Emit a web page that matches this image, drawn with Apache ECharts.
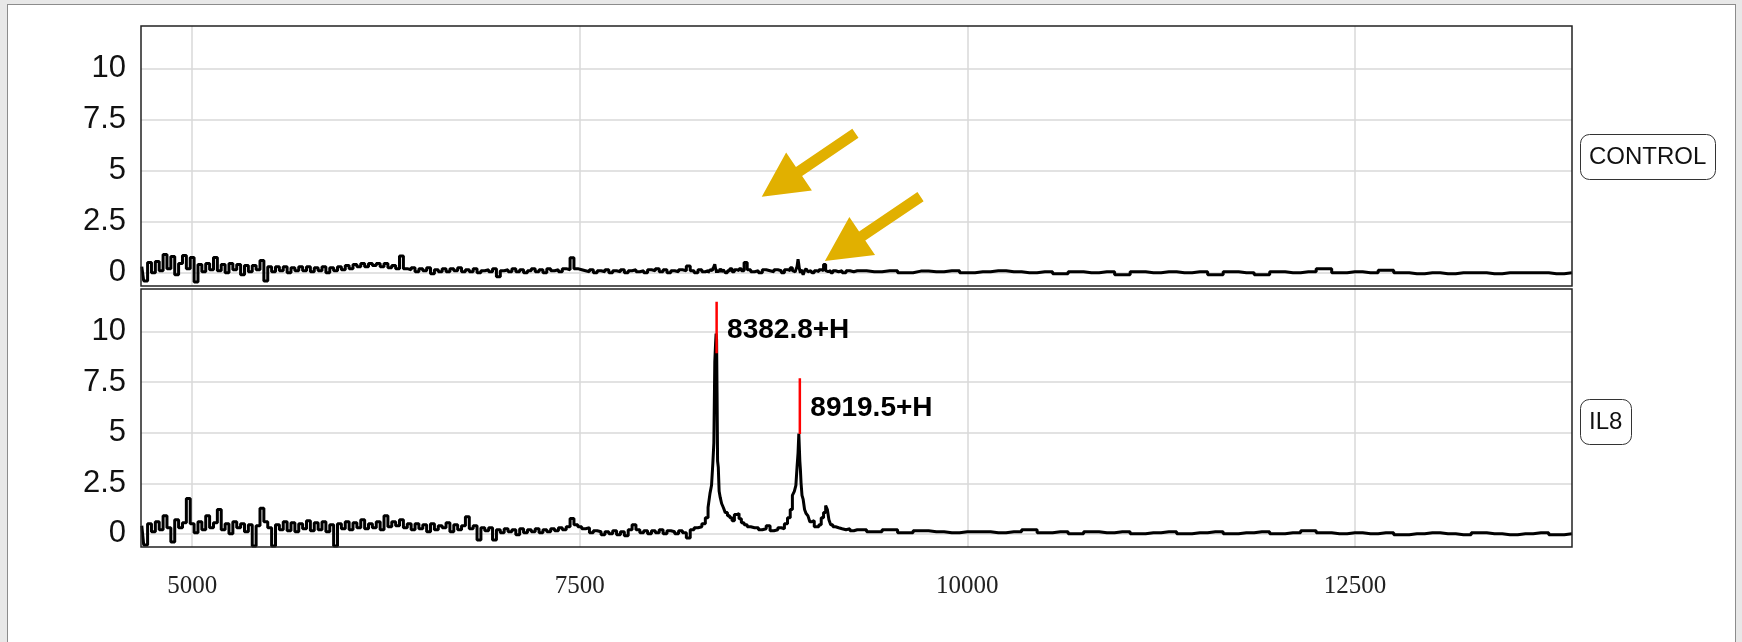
<!DOCTYPE html>
<html>
<head>
<meta charset="utf-8">
<script src="https://cdn.jsdelivr.net/npm/echarts@6/dist/echarts.min.js"></script>
<style>
  html, body { margin: 0; padding: 0; background: #e8e8e8; }
  #chart { position: absolute; left: 7px; top: 4px; width: 1727px; height: 638px; background: #fff; border: 1px solid #8c8c8c; border-bottom: none; }
</style>
</head>
<body>
<div id="chart"></div>
<script>
// mass axis (Da), low-mass noisy part, shared by both spectra
const massLow = [
  4675, 4700, 4725, 4750, 4775, 4800, 4825, 4850, 4875, 4900,
  4925, 4950, 4975, 5000, 5025, 5050, 5075, 5100, 5125, 5150,
  5175, 5200, 5225, 5250, 5275, 5300, 5325, 5350, 5375, 5400,
  5425, 5450, 5475, 5500, 5525, 5550, 5575, 5600, 5625, 5650,
  5675, 5700, 5725, 5750, 5775, 5800, 5825, 5850, 5875, 5900,
  5925, 5950, 5975, 6000, 6025, 6050, 6075, 6100, 6125, 6150,
  6175, 6200, 6225, 6250, 6275, 6300, 6325, 6350, 6375, 6400,
  6425, 6450, 6475, 6500, 6525, 6550, 6575, 6600, 6625, 6650,
  6675, 6700, 6725, 6750, 6775, 6800, 6825, 6850, 6875, 6900,
  6925, 6950, 6975, 7000, 7025, 7050, 7075, 7100, 7125, 7150,
  7175, 7200, 7225, 7250, 7275, 7300, 7325, 7350, 7375, 7400,
  7425, 7450, 7475, 7500, 7525, 7550, 7575, 7600, 7625, 7650,
  7675, 7700, 7725, 7750, 7775, 7800, 7825, 7850, 7875, 7900,
  7925, 7950, 7975, 8000, 8025, 8050, 8075, 8100, 8125, 8150,
  8175, 8200
]
// around the two IL8 peaks
const massPeak = [
  8225, 8250, 8275, 8300, 8320, 8335, 8345, 8355, 8362, 8368,
  8374, 8378, 8381, 8384, 8387, 8391, 8396, 8402, 8410, 8420,
  8432, 8445, 8460, 8475, 8490, 8505, 8520, 8535, 8550, 8570,
  8590, 8615, 8640, 8665, 8690, 8715, 8740, 8765, 8790, 8810,
  8830, 8850, 8865, 8878, 8890, 8898, 8905, 8911, 8915, 8918,
  8921, 8925, 8930, 8937, 8945, 8955, 8965, 8978, 8990, 9005,
  9020, 9035, 9050, 9065, 9080, 9092, 9102, 9112, 9125, 9140,
  9160, 9180, 9205, 9230, 9255, 9280
]
// flat high-mass tail
const massHigh = [
  9300, 9400, 9500, 9600, 9700, 9800, 9900, 10000, 10100, 10200,
  10300, 10400, 10500, 10600, 10700, 10800, 10900, 11000, 11100, 11200,
  11300, 11400, 11500, 11600, 11700, 11800, 11900, 12000, 12100, 12200,
  12300, 12400, 12500, 12600, 12700, 12800, 12900, 13000, 13100, 13200,
  13300, 13400, 13500, 13600, 13700, 13800, 13900
]

// CONTROL intensities
const controlLow = [
  0.3, -0.4, 0.5, 0.0, 0.55, 0.1, 0.9, 0.2, 0.8, -0.1,
  0.45, 0.85, 0.2, 0.75, -0.45, 0.4, 0.05, 0.45, 0.15, 0.75,
  0.1, 0.4, 0.0, 0.45, 0.15, 0.4, -0.1, 0.35, 0.05, 0.35,
  0.15, 0.6, -0.4, 0.3, 0.05, 0.3, 0.1, 0.3, 0.0, 0.25,
  0.1, 0.3, 0.1, 0.3, 0.05, 0.25, 0.1, 0.3, 0.0, 0.25,
  0.1, 0.3, 0.15, 0.35, 0.2, 0.4, 0.3, 0.45, 0.3, 0.45,
  0.35, 0.45, 0.3, 0.45, 0.25, 0.35, 0.2, 0.82, 0.2, 0.15,
  0.25, 0.05, 0.2, 0.1, 0.25, -0.05, 0.15, 0.05, 0.2, 0.05,
  0.2, 0.1, 0.25, 0.05, 0.15, 0.05, 0.2, 0.0, 0.1, 0.15,
  0.05, 0.2, -0.2, 0.1, 0.15, 0.05, 0.2, 0.05, 0.15, 0.0,
  0.1, 0.2, 0.05, 0.15, 0.0, 0.2, 0.1, 0.15, 0.05, 0.2,
  0.15, 0.74, 0.2, 0.15, 0.1, 0.05, 0.15, 0.0, 0.1, 0.05,
  0.15, 0.0, 0.1, 0.05, 0.15, 0.0, 0.1, 0.15, 0.05, 0.1,
  0.0, 0.15, 0.1, 0.2, 0.05, 0.15, 0.0, 0.1, 0.05, 0.15,
  0.1, 0.33
]
const controlPeak = [
  0.1, 0.0, 0.15, 0.05, 0.1, 0.0, 0.15, 0.1, 0.2, 0.3,
  0.41, 0.2, 0.1, 0.0, 0.1, 0.15, 0.05, 0.1, 0.2, 0.05,
  0.15, 0.0, 0.1, 0.2, 0.05, 0.15, 0.1, 0.2, 0.1, 0.5,
  0.15, 0.05, 0.1, 0.0, 0.15, 0.1, 0.05, 0.15, 0.1, 0.0,
  0.15, 0.1, 0.25, 0.1, 0.05, 0.15, 0.3, 0.66, 0.4, 0.2,
  0.1, 0.0, 0.15, 0.05, -0.1, 0.1, 0.2, 0.05, 0.1, 0.0,
  0.1, 0.05, 0.15, 0.1, 0.4, 0.1, 0.05, 0.1, 0.0, 0.1,
  0.05, 0.1, 0.0, 0.1, 0.05, 0.1
]
const controlHigh = [
  0.1, 0.05, 0.1, 0.0, 0.08, 0.05, 0.1, 0.0, 0.05, 0.1,
  0.05, 0.0, 0.05, -0.05, 0.05, 0.0, 0.05, -0.1, 0.05, 0.0,
  0.05, 0.0, 0.05, -0.1, 0.05, 0.0, -0.1, 0.05, 0.0, 0.05,
  0.2, 0.0, 0.05, 0.0, 0.12, 0.0, -0.05, 0.0, -0.05, 0.0,
  0.0, -0.05, 0.0, 0.0, 0.0, -0.05, 0.0
]

// IL8 intensities
const il8Low = [
  0.4, -0.55, 0.5, 0.1, 0.6, 0.2, 0.9, 0.3, -0.4, 0.7,
  0.3, 0.55, 1.75, 0.5, 0.05, 0.6, 0.2, 0.9, 0.3, 0.55,
  1.2, 0.2, 0.5, 0.0, 0.6, 0.3, 0.5, 0.1, 0.45, -0.6,
  0.4, 1.27, 0.6, 0.3, -0.6, 0.45, 0.2, 0.6, 0.15, 0.55,
  0.1, 0.5, 0.25, 0.65, 0.15, 0.55, 0.2, 0.6, 0.1, 0.45,
  -0.6, 0.5, 0.25, 0.6, 0.2, 0.55, 0.3, 0.7, 0.25, 0.5,
  0.3, 0.6, 0.2, 0.9, 0.35, 0.6, 0.4, 0.7, 0.3, 0.5,
  0.2, 0.5, 0.25, 0.45, 0.1, 0.5, 0.2, 0.4, 0.3, 0.55,
  0.1, 0.45, 0.2, 0.4, 0.85, 0.25, 0.4, -0.3, 0.3, 0.15,
  0.3, -0.3, 0.2, 0.05, 0.25, 0.1, 0.2, -0.05, 0.25, 0.05,
  0.2, 0.1, 0.25, 0.05, 0.2, 0.1, 0.25, 0.15, 0.3, 0.2,
  0.35, 0.76, 0.45, 0.35, 0.25, 0.3, 0.05, 0.15, 0.1, -0.05,
  0.1, 0.0, 0.15, -0.05, 0.1, -0.1, 0.2, 0.45, 0.2, 0.05,
  0.15, 0.0, 0.15, 0.05, 0.2, 0.0, 0.15, 0.1, 0.0, 0.15,
  0.05, -0.2
]
const il8Peak = [
  0.2, 0.3, 0.35, 0.5, 0.8, 1.3, 2.0, 2.4, 3.5, 4.5,
  8.5, 9.4, 9.9, 9.6, 7.0, 3.6, 3.3, 2.1, 1.8, 1.5,
  1.3, 1.05, 0.9, 0.8, 0.65, 0.95, 1.0, 0.75, 0.55, 0.45,
  0.35, 0.3, 0.3, 0.2, 0.25, 0.4, 0.15, 0.2, 0.3, 0.25,
  0.5, 0.8, 1.2, 1.9, 2.1, 2.4, 3.3, 4.0, 4.95, 4.9,
  3.6, 3.2, 2.5, 1.9, 1.7, 1.2, 1.0, 0.9, 0.6, 0.65,
  0.35, 0.35, 0.45, 0.8, 1.05, 1.4, 1.2, 0.7, 0.45, 0.35,
  0.3, 0.25, 0.2, 0.25, 0.15, 0.2
]
const il8High = [
  0.2, 0.1, 0.2, 0.05, 0.15, 0.1, 0.05, 0.1, 0.1, 0.05,
  0.1, 0.2, 0.05, 0.1, 0.0, 0.1, 0.05, 0.1, 0.0, 0.05,
  0.1, 0.0, 0.05, 0.1, 0.0, 0.05, 0.1, 0.0, 0.05, 0.15,
  0.05, 0.0, 0.05, 0.0, 0.05, -0.05, 0.0, 0.05, 0.0, -0.05,
  0.05, 0.0, -0.05, 0.0, 0.05, -0.05, 0.0
]

// labelled peaks (red markers) in IL8
const peakMass = [8382.8, 8919.5]
const peakMarkBottom = [8.92, 4.94]
const peakMarkTop = [11.47, 7.69]
const peakLabelY = [10.06, 6.21]

// yellow arrows in CONTROL panel, [mass, intensity]
const arrowTail = [[9278, 6.84], [9698, 3.73]]
const arrowTip = [[8674, 3.73], [9081, 0.57]]

const mass = massLow.concat(massPeak, massHigh)
const control = controlLow.concat(controlPeak, controlHigh)
const il8 = il8Low.concat(il8Peak, il8High)

function pairs(xs, ys) {
    return xs.map((x, i) => [x, ys[i]])
}

let chartDom = document.getElementById('chart')
let myChart = echarts.init(chartDom)

let axisFont = 'Liberation Sans'

function makeX(i) {
    return {
        type: 'value',
        gridIndex: i,
        min: 4670,
        max: 13900,
        minInterval: 2500,
        maxInterval: 2500,
        axisLine: { show: false },
        axisTick: { show: false },
        axisLabel: {
            show: i === 1,
            showMinLabel: false,
            showMaxLabel: false,
            formatter: v => String(v),
            fontFamily: 'Liberation Serif',
            fontSize: 25,
            color: '#222',
            margin: 27
        },
        splitLine: { show: true, showMinLine: false, showMaxLine: false, lineStyle: { color: '#d9d9d9', width: 1.5 } }
    }
}

function makeY(i) {
    return {
        type: 'value',
        gridIndex: i,
        min: -0.65,
        max: 12.1,
        minInterval: 2.5,
        maxInterval: 2.5,
        axisLine: { show: false },
        axisTick: { show: false },
        axisLabel: {
            showMinLabel: false,
            showMaxLabel: false,
            fontFamily: axisFont,
            fontSize: 31,
            color: '#111',
            margin: 15
        },
        splitLine: { show: true, showMinLine: false, showMaxLine: false, lineStyle: { color: '#d9d9d9', width: 1.5 } }
    }
}

let boxTitle = {
    left: 1572,
    padding: [11, 9],
    borderColor: '#333',
    borderWidth: 1,
    borderRadius: 9,
    textStyle: { fontFamily: axisFont, fontSize: 24, fontWeight: 'normal', color: '#111' }
}

let option = {
    animation: false,
    title: [
        Object.assign({ text: 'CONTROL', top: 129 }, boxTitle),
        Object.assign({ text: 'IL8', top: 394 }, boxTitle)
    ],
    grid: [
        { left: 133, top: 21, width: 1431, height: 260, show: true, borderColor: '#222', borderWidth: 1.5, z: 5 },
        { left: 133, top: 284, width: 1431, height: 258, show: true, borderColor: '#222', borderWidth: 1.5, z: 5 }
    ],
    xAxis: [makeX(0), makeX(1)],
    yAxis: [makeY(0), makeY(1)],
    series: [
        {
            name: 'CONTROL',
            type: 'line',
            xAxisIndex: 0,
            yAxisIndex: 0,
            data: pairs(mass, control),
            step: 'middle',
            symbol: 'none',
            lineStyle: { color: '#000', width: 3 },
            silent: true
        },
        {
            name: 'IL8',
            type: 'line',
            xAxisIndex: 1,
            yAxisIndex: 1,
            data: pairs(mass, il8),
            step: 'middle',
            symbol: 'none',
            lineStyle: { color: '#000', width: 3 },
            silent: true
        }
    ].concat(peakMass.map((m, i) => ({
        type: 'line',
        xAxisIndex: 1,
        yAxisIndex: 1,
        data: [[m, peakMarkBottom[i]], [m, peakMarkTop[i]]],
        symbol: 'none',
        lineStyle: { color: '#ff0000', width: 2.5 },
        z: 3,
        silent: true
    }))).concat([{
        type: 'scatter',
        xAxisIndex: 1,
        yAxisIndex: 1,
        data: pairs(peakMass, peakLabelY),
        symbolSize: 1,
        itemStyle: { color: 'rgba(0,0,0,0)', opacity: 1 },
        label: {
            show: true,
            position: 'right',
            distance: 10,
            formatter: p => p.value[0].toFixed(1) + '+H',
            fontFamily: axisFont,
            fontWeight: 'bold',
            fontSize: 28,
            color: '#000'
        },
        z: 4,
        silent: true
    }])
}
myChart.setOption(option)

// arrows drawn from data coordinates of the top panel
let arrows = arrowTail.map((tailVal, i) => {
    let a = myChart.convertToPixel({ xAxisIndex: 0, yAxisIndex: 0 }, tailVal)
    let b = myChart.convertToPixel({ xAxisIndex: 0, yAxisIndex: 0 }, arrowTip[i])
    let dx = b[0] - a[0], dy = b[1] - a[1]
    let len = Math.sqrt(dx * dx + dy * dy)
    let ux = dx / len, uy = dy / len
    let px = -uy, py = ux
    let shaft = 5.5, head = 23, headLen = 45
    let bx = b[0] - ux * headLen, by = b[1] - uy * headLen
    return {
        type: 'polygon',
        z: 100,
        shape: {
            points: [
                [a[0] + px * shaft, a[1] + py * shaft],
                [bx + px * shaft, by + py * shaft],
                [bx + px * head, by + py * head],
                [b[0], b[1]],
                [bx - px * head, by - py * head],
                [bx - px * shaft, by - py * shaft],
                [a[0] - px * shaft, a[1] - py * shaft]
            ]
        },
        style: { fill: '#e1b000' }
    }
})
myChart.setOption({ graphic: arrows })
</script>
</body>
</html>
